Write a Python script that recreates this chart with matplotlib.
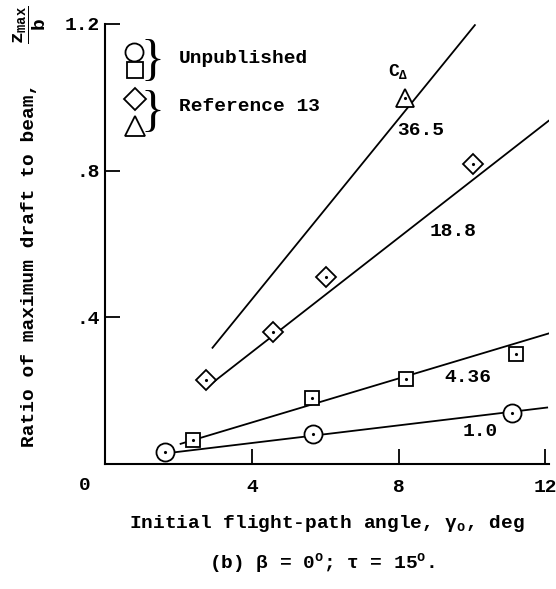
import matplotlib
matplotlib.use('Agg')
import matplotlib.pyplot as plt

plt.rcParams['font.family'] = ['Liberation Mono', 'DejaVu Sans']
plt.rcParams['font.weight'] = 'bold'
plt.rcParams['axes.labelweight'] = 'bold'
plt.rcParams['mathtext.fontset'] = 'custom'
plt.rcParams['mathtext.rm'] = 'Liberation Mono:bold'
plt.rcParams['mathtext.it'] = 'Liberation Mono:bold'
plt.rcParams['mathtext.bf'] = 'Liberation Mono:bold'

# measured points, gamma_0 (deg) vs z_max / b
circle_x = [1.64, 5.67, 11.1]
circle_y = [0.034, 0.081, 0.14]
square_x = [2.39, 5.63, 8.2, 11.19]
square_y = [0.065, 0.18, 0.232, 0.30]
diamond_x = [2.75, 4.59, 6.03, 10.04]
diamond_y = [0.229, 0.359, 0.509, 0.818]
triangle_x = [8.18]
triangle_y = [0.997]

# faired lines, one per C_delta
c_delta = ['1.0', '4.36', '18.8', '36.5']
line_x = [[1.65, 12.05], [2.06, 12.09], [2.91, 12.09], [2.93, 10.08]]
line_y = [[0.029, 0.154], [0.055, 0.356], [0.22, 0.936], [0.317, 1.197]]
label_pos = [(10.24, 0.088), (9.88, 0.236), (9.5, 0.634), (8.6, 0.909)]

fig = plt.figure(figsize=(5.56, 5.89), dpi=100)
ax = fig.add_axes([105 / 556, 125 / 589, 444 / 556, 440 / 589])

for xs, ys in zip(line_x, line_y):
    ax.plot(xs, ys, color='black', linewidth=1.3)

mk = dict(linestyle='none', markerfacecolor='white', markeredgecolor='black',
          markeredgewidth=1.3, zorder=3)
ax.plot(circle_x, circle_y, marker='o', markersize=13, **mk)
ax.plot(square_x, square_y, marker='s', markersize=10, **mk)
ax.plot(diamond_x, diamond_y, marker='D', markersize=10, **mk)
ax.plot(triangle_x, triangle_y, marker='^', markersize=13, **mk)
for xs, ys in [(circle_x, circle_y), (square_x, square_y),
               (diamond_x, diamond_y), (triangle_x, triangle_y)]:
    ax.plot(xs, ys, linestyle='none', marker='.', markersize=2.5,
            color='black', zorder=4)

for txt, (tx, ty) in zip(c_delta, label_pos):
    ax.text(tx, ty, txt, fontsize=14, ha='center', va='center')
ax.text(7.98, 1.07, r'C$_\Delta$', fontsize=13, ha='center', va='center')

# legend keys drawn by hand, as in the original
ax.plot([0.79], [1.124], marker='o', markersize=13, clip_on=False, **mk)
ax.plot([0.82], [1.074], marker='s', markersize=12, clip_on=False, **mk)
ax.plot([0.82], [0.995], marker='D', markersize=11, clip_on=False, **mk)
ax.plot([0.82], [0.922], marker='^', markersize=15, clip_on=False, **mk)
ax.text(0.98, 1.098, '}', fontsize=36, fontweight='normal', ha='left', va='center',
        family='Liberation Serif')
ax.text(0.98, 0.958, '}', fontsize=36, fontweight='normal', ha='left', va='center',
        family='Liberation Serif')
ax.text(2.02, 1.107, 'Unpublished', fontsize=14, ha='left', va='center')
ax.text(2.02, 0.974, 'Reference 13', fontsize=14, ha='left', va='center')

ax.set_xlim(0, 12.1)
ax.set_ylim(0, 1.2)
ax.set_xticks([4, 8, 12])
ax.set_xticklabels(['4', '8', '12'])
ax.set_yticks([0.4, 0.8, 1.2])
ax.set_yticklabels(['.4', '.8', '1.2'])
ax.tick_params(direction='in', length=11, width=1.3, labelsize=14)
ax.tick_params(axis='y', pad=3.5)
ax.tick_params(axis='x', pad=11)
ax.spines['top'].set_visible(False)
ax.spines['right'].set_visible(False)
ax.spines['left'].set_linewidth(1.5)
ax.spines['bottom'].set_linewidth(1.5)
ax.text(-0.55, -0.06, '0', fontsize=14, ha='center', va='center')

ax.set_xlabel(r'Initial flight-path angle, $\gamma_o$, deg', fontsize=14, labelpad=12)
fig.text(30 / 556, 1 - 265 / 589, 'Ratio of maximum draft to beam,', fontsize=14,
         rotation=90, ha='center', va='center')
fig.text(30 / 556, 1 - 25 / 589, r'$\dfrac{z_{max}}{b}$', fontsize=14,
         rotation=90, ha='center', va='center')
fig.text(0.58, 0.035, r'(b) $\beta$ = 0$^o$; $\tau$ = 15$^o$.', fontsize=14, ha='center')

fig.savefig('out.png', dpi=100)
